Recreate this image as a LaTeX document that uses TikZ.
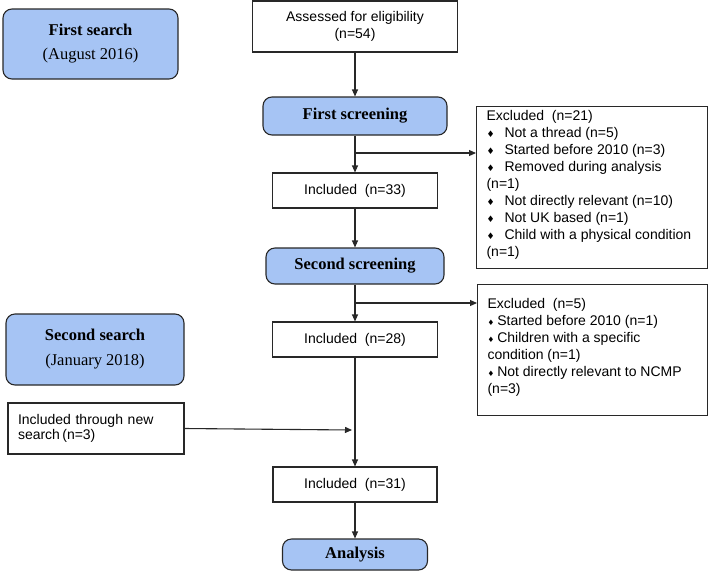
\documentclass[tikz,border=0pt]{standalone}
\usepackage{fontspec}
\setmainfont{Liberation Serif}
\newfontfamily\arialf{Liberation Sans}
\newfontfamily\djvf{DejaVu Sans}
\usetikzlibrary{arrows.meta}
\definecolor{boxblue}{RGB}{166,196,244}
\definecolor{edgec}{RGB}{40,40,40}
\newcommand{\bigdia}{\makebox[18pt][l]{\djvf\fontsize{9}{9}\selectfont ♦}}
\newcommand{\smalldia}{{\djvf\fontsize{7.5}{7.5}\selectfont ♦}\hspace{3pt}}
\begin{document}
\begin{tikzpicture}[x=1pt,y=-1pt,
  bluebox/.style={draw=edgec, line width=1.1pt, fill=boxblue, rounded corners=9pt,
    font=\bfseries\fontsize{16.5}{19}\selectfont, inner sep=0pt, align=center},
  whitebox/.style={draw=edgec, line width=1.1pt, fill=white,
    font=\arialf\fontsize{14}{17}\selectfont, inner sep=0pt, align=center},
  exbox/.style={draw=edgec, line width=1.1pt, fill=white,
    font=\arialf\fontsize{14}{17}\selectfont, inner xsep=10pt, inner ysep=0pt, anchor=north west},
  arr/.style={-{Triangle[length=7pt,width=6pt]}, line width=1.1pt, draw=edgec}]
\useasboundingbox (0,0) rectangle (709,571);

% left column
\node[bluebox, minimum width=175pt, minimum height=70pt] (s1) at (90.5,44)
  {First search\\[5pt]\mdseries (August 2016)};
\node[bluebox, minimum width=178pt, minimum height=71pt] (s2) at (95,349.5)
  {Second search\\[6pt]\mdseries (January 2018)};
\node[whitebox, minimum width=176pt, minimum height=51pt, text width=156pt, align=left,
  font=\arialf\fontsize{14}{15}\selectfont] (ns) at (96,428.5)
  {Included through new search\,(n=3)};

% centre column
\node[whitebox, minimum width=205pt, minimum height=51pt] (as) at (355,26.5)
  {Assessed for eligibility\\(n=54)};
\node[bluebox, minimum width=184pt, minimum height=38pt] (fs) at (355,116) {First screening};
\node[whitebox, minimum width=165pt, minimum height=35pt] (i33) at (355,190.5) {Included~~(n=33)};
\node[bluebox, minimum width=178pt, minimum height=36pt] (ss) at (355,266) {Second screening};
\node[whitebox, minimum width=165pt, minimum height=35pt] (i28) at (355,339.5) {Included~~(n=28)};
\node[whitebox, minimum width=164pt, minimum height=35pt] (i31) at (355,484.5) {Included~~(n=31)};
\node[bluebox, minimum width=145pt, minimum height=31pt] (an) at (355,554.5) {Analysis};

% excluded boxes
\node[exbox] (ex1) at (476,106)
  {\parbox[c][162pt][t]{211pt}{\vspace*{4pt}%
   Excluded~~(n=21)\\
   \bigdia Not a thread (n=5)\\
   \bigdia Started before 2010 (n=3)\\
   \bigdia Removed during analysis\\
   (n=1)\\
   \bigdia Not directly relevant (n=10)\\
   \bigdia Not UK based (n=1)\\
   \bigdia Child with a physical condition\\
   (n=1)}};
\node[exbox] (ex2) at (477,284)
  {\parbox[c][131pt][t]{210pt}{\vspace*{14pt}%
   Excluded~~(n=5)\\
   \smalldia Started before 2010 (n=1)\\
   \smalldia Children with a specific\\
   condition (n=1)\\
   \smalldia Not directly relevant to NCMP\\
   (n=3)}};

% connectors
\coordinate (b1) at (355,153);
\coordinate (b2) at (355,303);
\coordinate (m) at (352,430);
\draw[arr] (as) -- (fs);
\draw[arr] (fs) -- (i33);
\draw[arr] (b1) -- (b1 -| ex1.west);
\draw[arr] (i33) -- (ss);
\draw[arr] (ss) -- (i28);
\draw[arr] (b2) -- (b2 -| ex2.west);
\draw[arr] (i28) -- (i31);
\draw[arr] (ns.east) -- (m);
\draw[arr] (i31) -- (an);
\end{tikzpicture}
\end{document}
